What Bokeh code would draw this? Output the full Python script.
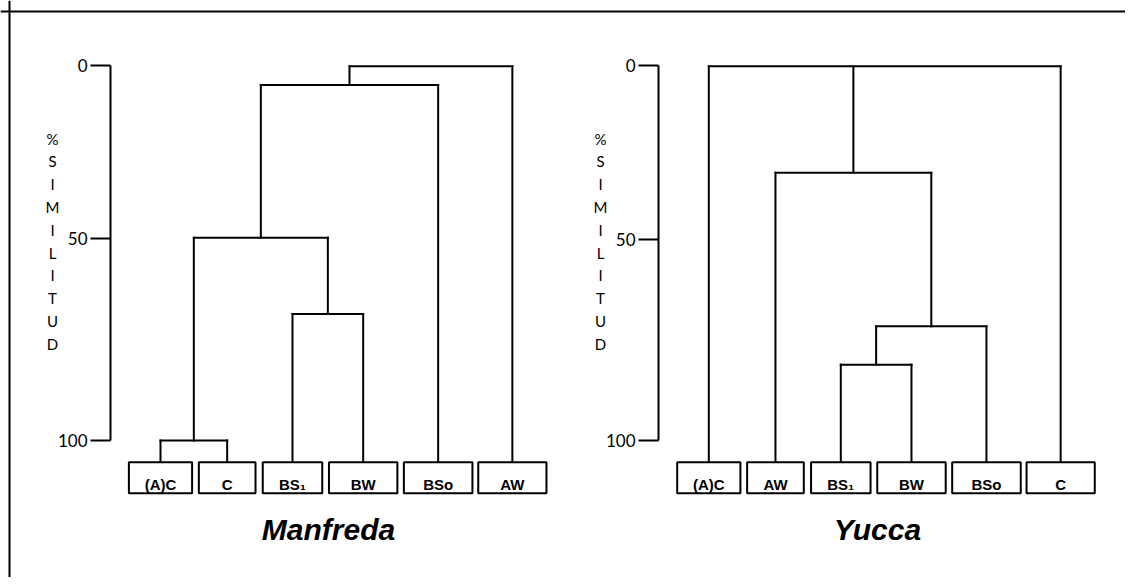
from bokeh.plotting import figure
from bokeh.models import Range1d, LinearAxis, FixedTicker, Span
from bokeh.embed import file_html
from bokeh.resources import INLINE
from bokeh.core.properties import value

# ---------------- data ----------------
manfreda_leaves = ["(A)C", "C", "BS₁", "BW", "BSo", "AW"]
# merges: children indices (leaves 0..5, then merge nodes 6, 7, ...)
manfreda_merges = [[0, 1], [2, 3], [6, 7], [8, 4], [9, 5]]
manfreda_heights = [100.0, 66.3, 46.0, 5.3, 0.3]

yucca_leaves = ["(A)C", "AW", "BS₁", "BW", "BSo", "C"]
yucca_merges = [[2, 3], [6, 4], [1, 7], [0, 8, 5]]
yucca_heights = [79.8, 69.6, 28.7, 0.3]

tick_labels = ["0", "50", "100"]
manfreda_tick_pos = [0, 46.1, 100]
yucca_tick_pos = [0, 46.5, 100]
axis_letters = ["%", "S", "I", "M", "I", "L", "I", "T", "U", "D"]

# ---------------- layout ----------------
W, H = 1125, 577
ORIGIN = 0.0  # page position of the canvas corner as photographed
Y0_PAGE, Y100_PAGE = 64.5, 440.0
PPU_Y = (Y100_PAGE - Y0_PAGE) / 100.0
SLOT = 70.4
X0_PAGE = 160.0


def ydata(page_y):
    return (page_y - Y0_PAGE) / PPU_Y


def xdata(page_x):
    return (page_x - X0_PAGE) / SLOT


SLOT_POS = [0, 0.947, 1.875, 2.879, 3.944, 4.998]
BOX_W = [0.898, 0.805, 0.845, 0.972, 0.974, 0.969]
BOX_TOP = ydata(461.7)
BOX_BOT = ydata(492.7)
LABEL_BASE = ydata(483.5)
TITLE_BASE = ydata(529)

p = figure(width=W, height=H,
           x_range=Range1d(xdata(ORIGIN), xdata(ORIGIN + W)),
           y_range=Range1d(ydata(ORIGIN + H), ydata(ORIGIN)),
           x_axis_location=None, y_axis_location=None,
           toolbar_location=None, output_backend="svg",
           min_border=0, outline_line_color=None,
           background_fill_color="white", border_fill_color="white")
p.grid.visible = False
p.xgrid.visible = False
p.ygrid.visible = False

# outer frame lines (top and left)
p.add_layout(Span(location=ydata(11), dimension="width", line_color="black", line_width=2))
p.add_layout(Span(location=xdata(9), dimension="height", line_color="black", line_width=2))


def draw_tree(leaves, merges, heights, origin, axis_x, ticks_pos, letters_x, title, title_x):
    xs = [origin + SLOT_POS[i] for i in range(len(leaves))]
    hs = [BOX_TOP] * len(leaves)
    x0, y0, x1, y1 = [], [], [], []
    for kids, h in zip(merges, heights):
        kx = [xs[k] for k in kids]
        for k in kids:
            x0.append(xs[k]); y0.append(hs[k]); x1.append(xs[k]); y1.append(h)
        x0.append(min(kx)); y0.append(h); x1.append(max(kx)); y1.append(h)
        xs.append(sum(kx) / len(kx)); hs.append(h)
    p.segment(x0=x0, y0=y0, x1=x1, y1=y1, line_color="black", line_width=2, line_cap="square")

    lx = xs[:len(leaves)]
    p.quad(left=[x - BOX_W[i] / 2 for i, x in enumerate(lx)],
           right=[x + BOX_W[i] / 2 for i, x in enumerate(lx)],
           top=[BOX_TOP] * len(lx), bottom=[BOX_BOT] * len(lx),
           fill_color="white", line_color="black", line_width=2)
    p.text(x=lx, y=[LABEL_BASE] * len(lx), text=leaves,
           text_align="center", text_baseline="alphabetic",
           text_font=value("Liberation Sans"), text_font_style="bold",
           text_font_size="15px", text_color="black")
    p.text(x=[title_x], y=[TITLE_BASE], text=[title],
           text_align="center", text_baseline="alphabetic",
           text_font=value("Liberation Sans"), text_font_style="bold italic",
           text_font_size="30px", text_color="black")
    p.text(x=[letters_x] * len(axis_letters),
           y=[ydata(138 + i * 22.8) for i in range(len(axis_letters))],
           text=axis_letters, text_align="center", text_baseline="middle",
           text_font=value("Lato"), text_font_size="15px", text_color="black")

    ax = LinearAxis(fixed_location=axis_x, bounds=(0, 100),
                    ticker=FixedTicker(ticks=ticks_pos),
                    major_label_overrides={t: l for t, l in zip(ticks_pos, tick_labels)},
                    axis_line_color="black", axis_line_width=2,
                    major_tick_line_color="black", major_tick_line_width=2,
                    major_tick_out=20, major_tick_in=0,
                    minor_tick_out=0, minor_tick_in=0,
                    major_label_standoff=3,
                    major_label_text_font="Lato",
                    major_label_text_font_size="17px",
                    major_label_text_color="black")
    p.add_layout(ax, "left")


draw_tree(manfreda_leaves, manfreda_merges, manfreda_heights, 0.0,
          xdata(110), manfreda_tick_pos, xdata(52), "Manfreda", xdata(328))
draw_tree(yucca_leaves, yucca_merges, yucca_heights, xdata(708.3),
          xdata(658), yucca_tick_pos, xdata(600), "Yucca", xdata(877))

open("out.html", "w").write(file_html(p, INLINE))
